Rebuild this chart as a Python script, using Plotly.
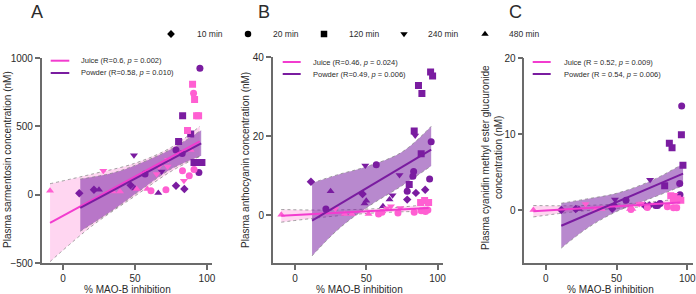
import plotly.graph_objects as go

W, H = 696, 294
FONT = "Liberation Sans, Arial, sans-serif"

TIME_LABELS = ["10 min", "20 min", "120 min", "240 min", "480 min"]
TIME_CODES = [10, 20, 120, 240, 480]
TIME_SYMBOLS = ["diamond", "circle", "square", "triangle-down", "triangle-up"]

# ---------------- Panel A : sarmentosin ----------------
A_powder_x = [95.1, 83.1, 88.7, 80.3, 78.5, 82.8, 91, 93.8, 96.5, 94.4, 49.3, 57, 68.5, 78.5, 84.3, 47, 50, 66.2, 21.5, 25, 11.3]
A_powder_y = [925, 577, 443, 389, 326, 302, 236, 236, 236, 163, 289, 151, 170, 65, 41, 68, 46, 12, 36, 36, 10]
A_powder_t = [20, 120, 120, 120, 20, 20, 120, 120, 120, 20, 240, 20, 240, 10, 10, 10, 480, 480, 10, 480, 10]
A_juice_x = [90, 90.7, 91.4, 92.8, 94.2, 86.5, 88.7, 83, 91, 87.7, 84, 71.5, 61.1, 58.6, 73, 72.7, 66.7, 65, 28, 51.2, 34.5, 39.6, -9]
A_juice_y = [808, 742, 696, 577, 577, 469, 326, 175, 185, 139, 102, 36, 29, 41, 255, 207, 207, 151, 175, 41, 24, 24, 29]
A_juice_t = [120, 20, 120, 120, 120, 120, 480, 20, 20, 20, 240, 20, 20, 480, 240, 240, 240, 240, 240, 480, 480, 480, 480]
A_juice_fit_x = [-9, 95]
A_juice_fit_y = [-207, 390]
A_powder_fit_x = [12, 96]
A_powder_fit_y = [-97, 375]
A_juice_band_x = [-9, 20, 50, 75, 95]
A_juice_band_hi = [80, 150, 230, 345, 500]
A_juice_band_lo = [-490, -230, -10, 170, 280]
A_powder_band_x = [12, 35, 55, 75, 96]
A_powder_band_hi = [114, 160, 236, 333, 472]
A_powder_band_lo = [-268, -110, 41, 187, 285]

# ---------------- Panel B : anthocyanin ----------------
B_powder_x = [95.1, 96.5, 86.6, 89, 83.6, 84.3, 95.5, 88.5, 57, 49.3, 73.3, 83.2, 82.7, 94.4, 80.1, 78.7, 84.8, 91.3, 78.7, 47.4, 68.4, 66.3, 61.7, 50, 48.8, 25, 21.7, 11.2]
B_powder_y = [36.2, 35.2, 32.8, 30.8, 21.3, 20.2, 18.6, 15.6, 12.8, 12.6, 10.2, 11.1, 9.9, 9.2, 7.8, 6.1, 5.7, 6.5, 4.0, 5.4, 5.1, 4.0, 2.3, 3.7, 3.0, 6.1, 1.6, 8.5]
B_powder_t = [120, 120, 120, 120, 120, 240, 20, 120, 20, 240, 240, 20, 20, 20, 120, 20, 10, 10, 10, 10, 240, 480, 480, 480, 480, 480, 20, 10]
B_juice_x = [88.1, 90.9, 93.7, 67.3, 73.8, 64.5, 28.3, 83.6, 88.5, 90.9, 93.2, 72.2, 58.6, 61, 34.8, 39.9, 51.6, -9.6, 91.5]
B_juice_y = [3.3, 3.8, 3.3, 2.3, 1.9, 1.8, 1.7, 0.8, 1.2, 1.3, 1.4, 0.6, 0.4, 0.8, 0.4, 0.4, 0.4, 0.2, 1.0]
B_juice_t = [120, 120, 120, 240, 240, 240, 240, 20, 20, 20, 20, 20, 20, 20, 480, 480, 480, 480, 20]
B_juice_fit_x = [-9.6, 93.7]
B_juice_fit_y = [-0.1, 1.9]
B_powder_fit_x = [12, 95.5]
B_powder_fit_y = [-1.3, 16.6]
B_juice_band_x = [-9.6, 20, 50, 75, 93.7]
B_juice_band_hi = [1.5, 1.36, 1.6, 2.13, 2.82]
B_juice_band_lo = [-1.7, -0.44, 0.5, 0.93, 1.02]
B_powder_band_x = [12, 30, 50, 75, 95.5]
B_powder_band_hi = [8.2, 10.3, 12.3, 16, 22.5]
B_powder_band_lo = [-10.2, -3.6, 1.9, 7.5, 12.5]

# ---------------- Panel C : cyanidin methyl ester glucuronide ----------------
C_powder_x = [96, 95.8, 87.3, 89.2, 96.9, 73.7, 84, 94.6, 94.8, 80.7, 79, 77.7, 73.2, 69.9, 56.7, 48.9, 47, 48.7, 11, 21.2, 23.5]
C_powder_y = [13.7, 9.9, 8.8, 8.2, 5.9, 4.0, 3.2, 3.5, 2.0, 0.87, 0.61, 0.61, 0.61, 0.61, 1.3, 1.4, 0.18, 0.74, 0, 0.13, 0.13]
C_powder_t = [20, 120, 120, 120, 120, 240, 120, 20, 20, 20, 20, 20, 10, 10, 20, 240, 10, 480, 10, 10, 480]
C_juice_x = [88.3, 90.2, 93, 95.4, 85.9, 90.2, 92.5, 28.2, 66, 67.6, 71.8, 60.2, -8.7, 35.3, 39.5, 59.5, 61.2, 91]
C_juice_y = [1.9, 1.5, 1.5, 1.3, 0.44, 0.3, 0.3, 0.79, 0.79, 0.88, 0.35, 0.09, 0, 0.04, 0.13, 0.13, 0.13, 2.0]
C_juice_t = [120, 120, 120, 120, 20, 20, 20, 240, 240, 240, 20, 20, 480, 480, 480, 480, 480, 240]
C_juice_fit_x = [-8.7, 95]
C_juice_fit_y = [-0.15, 1.0]
C_powder_fit_x = [11, 97]
C_powder_fit_y = [-2.06, 4.8]
C_juice_band_x = [-8.7, 20, 50, 75, 95]
C_juice_band_hi = [0.6, 0.57, 0.78, 1.08, 1.5]
C_juice_band_lo = [-0.9, -0.23, 0.22, 0.48, 0.5]
C_powder_band_x = [11, 30, 50, 75, 97]
C_powder_band_hi = [0.9, 1.5, 2.2, 3.9, 6.1]
C_powder_band_lo = [-5.0, -2.3, -0.2, 1.6, 3.2]

# time-point key (top of figure), pixel positions of symbols and labels
KEY_SYMBOL_X = [171, 248, 324, 404, 485]
KEY_TEXT_X = [195, 271, 347, 426, 507]
KEY_Y = 34

JUICE_MARK = "#FF5FD2"
JUICE_LINE = "#F23CCF"
POWDER_MARK = "#7A1CA0"
POWDER_LINE = "#7A1CA0"
JUICE_FILL = "rgba(255,120,210,0.30)"
POWDER_FILL = "rgba(125,40,165,0.55)"
DOT = "#8a8a8a"
AXC = "#6b6b6b"
TXT = "#2b2b2b"
SYMBOL_SIZE = {"diamond": 6.5, "circle": 7, "square": 7, "triangle-down": 7, "triangle-up": 7}

fig = go.Figure()


def band(xa, ya, bx, hi, lo, fill):
    fig.add_trace(go.Scatter(x=bx, y=lo, mode="lines", line=dict(color=DOT, width=0.8, dash="dot", shape="spline"),
                             xaxis=xa, yaxis=ya, showlegend=False, hoverinfo="skip"))
    fig.add_trace(go.Scatter(x=bx, y=hi, mode="lines", line=dict(color=DOT, width=0.8, dash="dot", shape="spline"),
                             fill="tonexty", fillcolor=fill, xaxis=xa, yaxis=ya, showlegend=False, hoverinfo="skip"))


def points(xa, ya, xs, ys, ts, color):
    for code, sym in zip(TIME_CODES, TIME_SYMBOLS):
        px = [x for x, t in zip(xs, ts) if t == code]
        py = [y for y, t in zip(ys, ts) if t == code]
        if not px:
            continue
        fig.add_trace(go.Scatter(x=px, y=py, mode="markers", xaxis=xa, yaxis=ya, showlegend=False,
                                 marker=dict(symbol=sym, size=SYMBOL_SIZE[sym], color=color, line=dict(width=0))))


panels = [
    ("x", "y", A_juice_band_x, A_juice_band_hi, A_juice_band_lo, A_powder_band_x, A_powder_band_hi, A_powder_band_lo,
     A_juice_fit_x, A_juice_fit_y, A_powder_fit_x, A_powder_fit_y,
     A_juice_x, A_juice_y, A_juice_t, A_powder_x, A_powder_y, A_powder_t),
    ("x2", "y2", B_juice_band_x, B_juice_band_hi, B_juice_band_lo, B_powder_band_x, B_powder_band_hi, B_powder_band_lo,
     B_juice_fit_x, B_juice_fit_y, B_powder_fit_x, B_powder_fit_y,
     B_juice_x, B_juice_y, B_juice_t, B_powder_x, B_powder_y, B_powder_t),
    ("x3", "y3", C_juice_band_x, C_juice_band_hi, C_juice_band_lo, C_powder_band_x, C_powder_band_hi, C_powder_band_lo,
     C_juice_fit_x, C_juice_fit_y, C_powder_fit_x, C_powder_fit_y,
     C_juice_x, C_juice_y, C_juice_t, C_powder_x, C_powder_y, C_powder_t),
]

for (xa, ya, jbx, jhi, jlo, pbx, phi, plo, jfx, jfy, pfx, pfy, jx, jy, jt, px_, py_, pt) in panels:
    band(xa, ya, jbx, jhi, jlo, JUICE_FILL)
    band(xa, ya, pbx, phi, plo, POWDER_FILL)
    points(xa, ya, px_, py_, pt, POWDER_MARK)
    points(xa, ya, jx, jy, jt, JUICE_MARK)
    fig.add_trace(go.Scatter(x=jfx, y=jfy, mode="lines", line=dict(color=JUICE_LINE, width=2),
                             xaxis=xa, yaxis=ya, showlegend=False, hoverinfo="skip"))
    fig.add_trace(go.Scatter(x=pfx, y=pfy, mode="lines", line=dict(color=POWDER_LINE, width=2),
                             xaxis=xa, yaxis=ya, showlegend=False, hoverinfo="skip"))

# time-point symbol key drawn on an invisible full-figure pixel axis
for sx, sym in zip(KEY_SYMBOL_X, TIME_SYMBOLS):
    fig.add_trace(go.Scatter(x=[sx], y=[KEY_Y], mode="markers", xaxis="x4", yaxis="y4", showlegend=False,
                             hoverinfo="skip", marker=dict(symbol=sym, size=SYMBOL_SIZE[sym] - 0.5, color="black")))


def px2x(p):
    return p / W


def py2y(p):
    return 1 - p / H


axis_common = dict(showgrid=False, zeroline=False, showline=True, linecolor=AXC, linewidth=1.5,
                   ticks="outside", ticklen=5, tickwidth=1.5, tickcolor=AXC, automargin=False,
                   ticklabeloverflow="allow",
                   tickfont=dict(family=FONT, size=10, color=TXT))

layout_axes = {
    "xaxis": dict(domain=[px2x(41.7), px2x(212)], range=[-14.8, 103.5], anchor="y", tickvals=[0, 50, 100], **axis_common),
    "yaxis": dict(domain=[py2y(263), py2y(58)], range=[-500, 1000], anchor="x", tickvals=[-500, 0, 500, 1000], **axis_common),
    "xaxis2": dict(domain=[px2x(272.7), px2x(443.3)], range=[-15.6, 104], anchor="y2", tickvals=[0, 50, 100], **axis_common),
    "yaxis2": dict(domain=[py2y(263), py2y(57)], range=[-12, 40], anchor="x2", tickvals=[0, 20, 40], **axis_common),
    "xaxis3": dict(domain=[px2x(524.3), px2x(693)], range=[-15.1, 104], anchor="y3", tickvals=[0, 50, 100], **axis_common),
    "yaxis3": dict(domain=[py2y(263.3), py2y(58)], range=[-7, 20], anchor="x3", tickvals=[0, 10, 20], **axis_common),
    "xaxis4": dict(domain=[0, 1], range=[0, W], anchor="y4", visible=False, fixedrange=True),
    "yaxis4": dict(domain=[0, 1], range=[H, 0], anchor="x4", visible=False, fixedrange=True),
}

annotations = []


def txt(x, y, s, size=10, angle=0, xanchor="center", yanchor="middle"):
    annotations.append(dict(x=px2x(x), y=py2y(y), xref="paper", yref="paper", text=s, showarrow=False,
                            textangle=angle, xanchor=xanchor, yanchor=yanchor,
                            font=dict(family=FONT, size=size, color=TXT)))


# panel letters
txt(37, 12, "A", size=18)
txt(264, 12, "B", size=18)
txt(515, 12, "C", size=18)

# time key labels
for tx, lab in zip(KEY_TEXT_X, TIME_LABELS):
    txt(tx, KEY_Y, lab, size=8.5, xanchor="left")

# axis titles
for cx in (127, 359, 610):
    txt(cx, 289.5, "% MAO-B inhibition", size=10)
txt(7, 160, "Plasma sarmentosin concentration (nM)", size=10, angle=-90)
txt(245, 160, "Plasma anthocyanin concentration (nM)", size=10, angle=-90)
txt(485, 158, "Plasma cyanidin methyl ester glucuronide", size=10, angle=-90)
txt(498, 158, "concentration (nM)", size=10, angle=-90)

# in-panel regression legends
shapes = []
leg_specs = [
    (50.7, 69.3, 79, 60.7, 73, "Juice (R=0.6, <i>p</i> = 0.002)", "Powder (R=0.58, <i>p</i> = 0.010)"),
    (282.7, 300.7, 311, 62, 74, "Juice (R=0.46, <i>p</i> = 0.024)", "Powder (R=0.49, <i>p</i> = 0.006)"),
    (532.7, 550.7, 561.7, 62, 74, "Juice (R = 0.52, <i>p</i> = 0.009)", "Powder (R = 0.54, <i>p</i> = 0.006)"),
]
for x0, x1, tx, y0, y1, t0, t1 in leg_specs:
    shapes.append(dict(type="line", xref="paper", yref="paper", x0=px2x(x0), x1=px2x(x1), y0=py2y(y0), y1=py2y(y0),
                       line=dict(color=JUICE_LINE, width=2)))
    shapes.append(dict(type="line", xref="paper", yref="paper", x0=px2x(x0), x1=px2x(x1), y0=py2y(y1), y1=py2y(y1),
                       line=dict(color=POWDER_LINE, width=2)))
    txt(tx, y0, t0, size=7.5, xanchor="left")
    txt(tx, y1, t1, size=7.5, xanchor="left")

fig.update_layout(
    width=W, height=H, margin=dict(l=0, r=0, t=0, b=0, autoexpand=False),
    paper_bgcolor="white", plot_bgcolor="rgba(0,0,0,0)",
    font=dict(family=FONT, size=10, color=TXT),
    annotations=annotations, shapes=shapes, showlegend=False,
    **layout_axes,
)

# remove the browser's default page margin so the figure sits at the window origin
fig.write_html("out.html", post_script="document.body.style.margin='0';document.body.style.overflow='hidden';",
               config={"displayModeBar": False})
